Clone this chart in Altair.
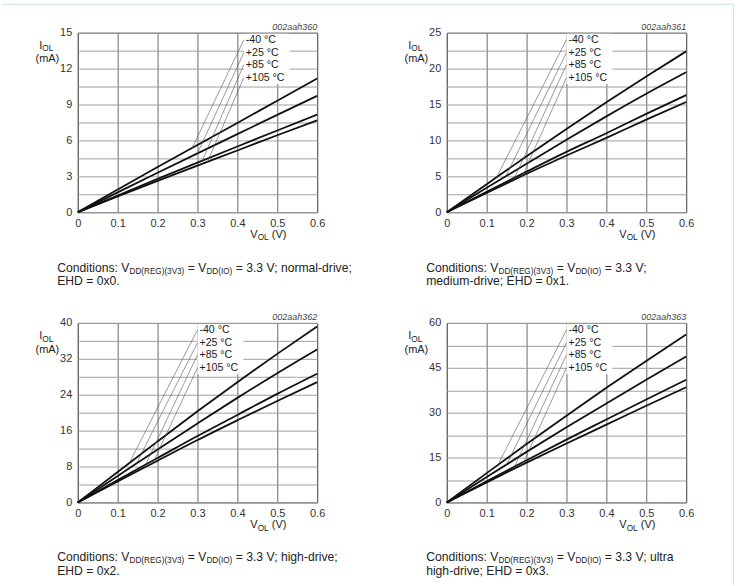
import altair as alt
import numpy as np
import pandas as pd

FONT = "Liberation Sans, Arial, sans-serif"

# Output voltage steps (V)
V_OL = [0.0, 0.1, 0.2, 0.3, 0.4, 0.5, 0.6]
TEMPS = ["-40 °C", "+25 °C", "+85 °C", "+105 °C"]

# Sink current I_OL (mA) per temperature, one list per drive strength
I_NORMAL = {
    "-40 °C": [0, 1.90, 3.78, 5.62, 7.46, 9.32, 11.17],
    "+25 °C": [0, 1.66, 3.30, 4.92, 6.53, 8.13, 9.72],
    "+85 °C": [0, 1.40, 2.78, 4.14, 5.49, 6.83, 8.16],
    "+105 °C": [0, 1.32, 2.62, 3.90, 5.16, 6.43, 7.68],
}
I_MEDIUM = {
    "-40 °C": [0, 3.9, 7.8, 11.6, 15.3, 18.9, 22.4],
    "+25 °C": [0, 3.4, 6.75, 10.1, 13.35, 16.5, 19.5],
    "+85 °C": [0, 2.85, 5.65, 8.4, 11.0, 13.7, 16.3],
    "+105 °C": [0, 2.7, 5.35, 7.9, 10.35, 12.9, 15.35],
}
I_HIGH = {
    "-40 °C": [0, 6.8, 13.6, 20.3, 26.8, 33.1, 39.2],
    "+25 °C": [0, 5.9, 11.8, 17.6, 23.3, 28.8, 34.1],
    "+85 °C": [0, 5.0, 9.9, 14.8, 19.5, 24.2, 28.7],
    "+105 °C": [0, 4.7, 9.3, 13.9, 18.3, 22.6, 26.8],
}
I_ULTRA = {
    "-40 °C": [0, 9.8, 19.5, 29.0, 38.3, 47.3, 56.1],
    "+25 °C": [0, 8.5, 16.9, 25.1, 33.1, 41.0, 48.8],
    "+85 °C": [0, 7.1, 14.1, 21.0, 27.7, 34.4, 41.0],
    "+105 °C": [0, 6.7, 13.3, 19.7, 26.0, 32.3, 38.5],
}

Y_MAX = [15, 25, 40, 60]
Y_STEP = [3, 5, 8, 15]
FIG_IDS = ["002aah360", "002aah361", "002aah362", "002aah363"]
CAPTION_TAIL = [" = 3.3 V; normal-drive;", " = 3.3 V;", " = 3.3 V; high-drive;", " = 3.3 V; ultra"]
CAPTION_LINE2 = ["EHD = 0x0.", "medium-drive; EHD = 0x1.", "EHD = 0x2.", "high-drive; EHD = 0x3."]
# where each label's leader line meets its curve (V)
LEADER_V = [
    [0.287, 0.300, 0.312, 0.325],
    [0.125, 0.148, 0.170, 0.190],
    [0.129, 0.147, 0.170, 0.188],
    [0.128, 0.150, 0.170, 0.190],
]
LABEL_LEFT = [168.5, 122.0, 122.0, 122.0]
LABEL_ROWS = [7, 20, 32, 45]

W, H = 240, 180

# Arial / Liberation Sans advance widths (1/1000 em)
ADV = {
    " ": 278, "(": 333, ")": 333, "+": 584, "-": 333, ".": 278, ":": 278, ";": 278,
    "=": 584, "°": 400, "A": 667, "C": 722, "D": 722, "E": 667, "G": 778, "H": 722,
    "I": 278, "L": 556, "O": 778, "R": 722, "V": 667, "a": 556, "c": 500, "d": 556,
    "e": 556, "g": 556, "h": 556, "i": 222, "l": 222, "m": 833, "n": 556, "o": 556,
    "r": 333, "s": 500, "t": 278, "u": 556, "v": 500, "x": 500,
}


def text_w(s, size):
    return sum(ADV.get(c, 556) for c in s) / 1000.0 * size


ONE = pd.DataFrame({"k": [0]})


def txt(s, x, y, size=12, align="left", baseline="alphabetic", color="#222", italic=False):
    return alt.Chart(ONE).mark_text(
        text=s, align=align, baseline=baseline, font=FONT, fontSize=size,
        color=color, fontStyle="italic" if italic else "normal",
    ).encode(x=alt.value(x), y=alt.value(y))


def run(segments, x, y_center, size=12.2, sub_size=8.2, drop=2.0):
    """Left-to-right text run with subscripts; returns layers."""
    base = y_center + 0.36 * size
    out = []
    for s, sub in segments:
        fs = sub_size if sub else size
        # SVG drops leading blanks, so advance past them explicitly
        stripped = s.lstrip(" ")
        x += text_w(s[: len(s) - len(stripped)], fs)
        out.append(txt(stripped, x, base + (drop if sub else 0), size=fs))
        x += text_w(stripped, fs)
    return out


def panel(idx, series):
    ymax, ystep = Y_MAX[idx], Y_STEP[idx]
    rows = []
    for t in TEMPS:
        for v, i in zip(V_OL, series[t]):
            rows.append({"v": v, "i": i, "temp": t})
    df = pd.DataFrame(rows)

    half = ystep / 2
    y_vals = [round(k * half, 4) for k in range(int(round(ymax / half)) + 1)]
    x_axis = alt.Axis(
        values=V_OL, format="~g", title=None, ticks=False, domain=False,
        gridColor="#6a6a6a", gridWidth=1, labelFont=FONT, labelFontSize=11,
        labelColor="#333", labelPadding=5, labelFlush=False, labelOverlap=False,
    )
    y_axis = alt.Axis(
        values=y_vals, labelExpr=f"datum.value % {ystep} == 0 ? datum.label : ''",
        title=None, ticks=False, domain=False, gridColor="#a0a0a0", gridWidth=1,
        labelFont=FONT, labelFontSize=11, labelColor="#333", labelPadding=6,
        labelFlush=False, labelOverlap=False,
    )
    x_scale = alt.Scale(domain=[0, 0.6], nice=False, zero=False)
    y_scale = alt.Scale(domain=[0, ymax], nice=False)

    curves = alt.Chart(df).mark_line(
        interpolate="monotone", color="#111", strokeWidth=1.8
    ).encode(
        x=alt.X("v:Q", scale=x_scale, axis=x_axis),
        y=alt.Y("i:Q", scale=y_scale, axis=y_axis),
        detail="temp:N",
    )

    layers = [curves]

    # label block with white backing and leader lines
    left = LABEL_LEFT[idx]
    layers.append(
        alt.Chart(ONE).mark_rect(color="white").encode(
            x=alt.value(left - 2), x2=alt.value(left + 44),
            y=alt.value(1), y2=alt.value(51.5),
        )
    )
    for t, ry, ve in zip(TEMPS, LABEL_ROWS, LEADER_V[idx]):
        ie = float(np.interp(ve, V_OL, series[t]))
        layers.append(
            alt.Chart(ONE).mark_rule(color="#555", strokeWidth=0.6).encode(
                x=alt.XDatum(ve, type="quantitative", scale=x_scale, axis=x_axis),
                y=alt.YDatum(ie, type="quantitative", scale=y_scale, axis=y_axis),
                x2=alt.value(left - 2), y2=alt.value(ry),
            )
        )
        layers.append(txt(t, left, ry, size=10.6, baseline="middle", color="#1a1a1a"))

    # figure id
    layers.append(txt(FIG_IDS[idx], W, -3, size=9, align="right", color="#444", italic=True))

    # axis titles
    layers += run([("I", False), ("OL", True)], -38.7, 12.5, size=11, sub_size=8.3, drop=2.3)
    layers.append(txt("(mA)", -30.5, 26.8, size=11, align="center", baseline="middle"))
    layers += run([("V", False), ("OL", True), (" (V)", False)], 173, 202, size=11, sub_size=8.3, drop=2.3)

    # conditions caption
    cx = -20.7
    cy = 235.3 if idx < 2 else 234.6
    layers += run(
        [("Conditions: V", False), ("DD(REG)(3V3)", True), (" = V", False),
         ("DD(IO)", True), (CAPTION_TAIL[idx], False)],
        cx, cy,
    )
    layers += run([(CAPTION_LINE2[idx], False)], cx, cy + 13.4)

    if idx == 0:
        # page frame (top and right edges) and extent of the page
        layers.append(
            alt.Chart(ONE).mark_rule(color="#cfe2e5", strokeWidth=1).encode(
                x=alt.value(-76.5), x2=alt.value(657.5), y=alt.value(-28.5), y2=alt.value(-28.5)
            )
        )
        layers.append(
            alt.Chart(ONE).mark_rule(color="#cfe2e5", strokeWidth=1).encode(
                x=alt.value(657.5), x2=alt.value(657.5), y=alt.value(-28.5), y2=alt.value(554)
            )
        )
        layers.append(
            alt.Chart(ONE).mark_rule(opacity=0, strokeWidth=0).encode(
                x=alt.value(-77), x2=alt.value(664), y=alt.value(-31), y2=alt.value(555)
            )
        )

    return alt.layer(*layers).properties(width=W, height=H)


panels = [panel(i, s) for i, s in enumerate([I_NORMAL, I_MEDIUM, I_HIGH, I_ULTRA])]

chart = (
    alt.concat(*panels, columns=2, spacing={"row": 111, "column": 130}, bounds="flush")
    .properties(padding=0, autosize=alt.AutoSizeParams(type="pad"), background="white")
    .configure_view(stroke="#444", strokeWidth=1)
)

chart.save("out.html", embed_options={"renderer": "svg", "actions": False})
